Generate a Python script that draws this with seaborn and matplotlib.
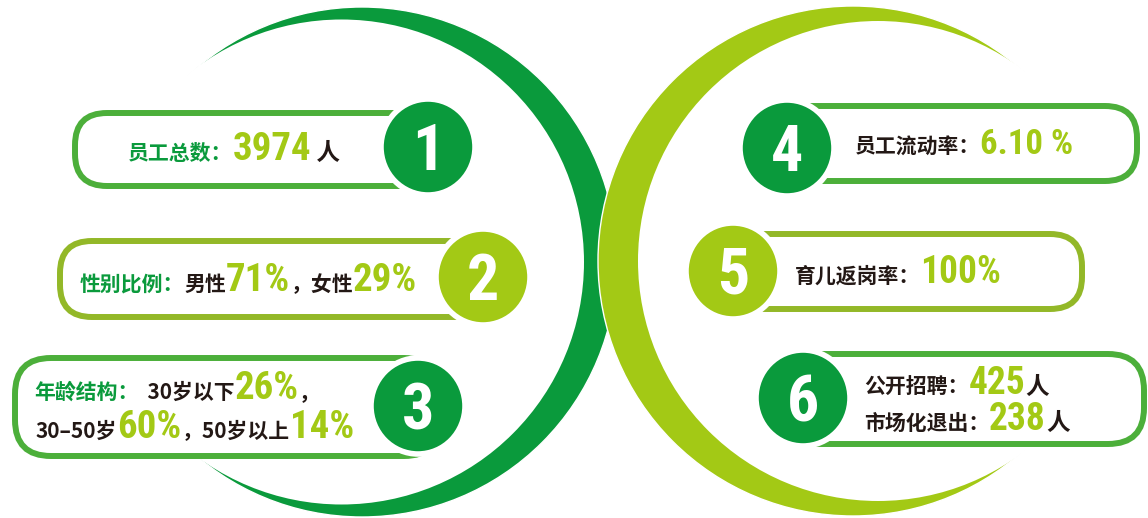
import matplotlib
matplotlib.use("Agg")
import matplotlib.pyplot as plt
import seaborn as sns
from matplotlib import font_manager
from matplotlib.patches import Circle, Ellipse, FancyBboxPatch

# --- DATA ---
badge_numbers = ["1", "2", "3", "4", "5", "6"]
staff_total = 3974
gender_labels = ["男性", "女性"]
gender_pct = [71, 29]
age_labels = ["30岁以下", "30–50岁", "50岁以上"]
age_pct = [26, 60, 14]
turnover_rate = 6.10
return_rate = 100
hire_labels = ["公开招聘：", "市场化退出："]
hire_counts = [425, 238]

# --- STYLE ---
sns.set_theme(style="white")
plt.rcParams["font.family"] = ["Noto Sans CJK SC", "DejaVu Sans"]

DARK = "#0a9a3c"
LIME = "#a3c915"
BORDER = "#4caf3a"
BORDER2 = "#93b828"
INK = "#231815"

# narrow font for the big numbers, whatever is around
installed = sorted({f.name for f in font_manager.fontManager.ttflist})
num_family = None
for name in ["Roboto Condensed", "Liberation Sans Narrow", "DejaVu Sans Condensed",
             "Open Sans Condensed", "Noto Sans Condensed"]:
    if name in installed:
        num_family = name
        break
if num_family is None:
    narrow = [n for n in installed if "Condensed" in n or "Narrow" in n]
    num_family = narrow[0] if narrow else "Roboto"
NUM = dict(family=num_family, weight="bold")
CJK = dict(family=["Noto Sans CJK SC", "DejaVu Sans"], weight="bold")
LBL = 15  # size of the chinese labels

fig = plt.figure(figsize=(11.48, 5.18), dpi=100)
ax = fig.add_axes([0, 0, 1, 1])
ax.set_xlim(0, 1148)
ax.set_ylim(518, 0)
ax.axis("off")
renderer = fig.canvas.get_renderer()


def crescent(cx, cy, r, dx, r_in, color, zo):
    ax.add_patch(Circle((cx, cy), r, fc=color, ec="white", lw=1, zorder=zo))
    ax.add_patch(Circle((cx + dx, cy), r_in, fc="white", ec="none", zorder=zo + 0.5))


def box(x0, y0, x1, y1, color, rs):
    ax.add_patch(FancyBboxPatch((x0, y0), x1 - x0, y1 - y0,
                                boxstyle=f"round,pad=0,rounding_size={rs}",
                                fc="white", ec=color, lw=4.3, zorder=5))


def badge(cx, cy, color, label):
    ax.add_patch(Ellipse((cx, cy), 94, 96, fc=color, ec="white", lw=4, zorder=6))
    ax.text(cx, cy + 23, label, color="white", fontsize=46, ha="center",
            va="baseline", zorder=7, **NUM)


def chain(x, y, parts):
    # place text pieces one after another on the same baseline
    for s, color, size, props in parts:
        t = ax.text(x, y, s, color=color, fontsize=size, ha="left",
                    va="baseline", zorder=7, **props)
        bb = t.get_window_extent(renderer)
        x = ax.transData.inverted().transform((bb.x1, bb.y0))[0]


# --- BACKGROUND CRESCENTS ---
crescent(362, 262, 255, -20.5, 242.5, DARK, 1)
crescent(853, 261, 255, 25, 240, LIME, 2)

# --- BOXES ---
box(75, 113, 445, 186, BORDER, 32)
box(60, 241, 505, 317, BORDER2, 32)
box(15, 358, 440, 456, BORDER, 36)
box(765, 106, 1137, 181, BORDER, 32)
box(715, 234, 1082, 309, BORDER2, 32)
box(785, 354, 1144, 444, BORDER, 36)

# --- BADGES ---
badge_pos = [(428, 147), (483, 277), (418, 406), (787, 148), (733, 271), (803, 398)]
badge_col = [DARK, LIME, DARK, DARK, LIME, DARK]
for (bx, by), bc, num in zip(badge_pos, badge_col, badge_numbers):
    badge(bx, by, bc, num)

# --- TEXT ---
chain(128, 160, [("员工总数：", DARK, LBL, CJK),
                 (f"{staff_total}", LIME, 28, NUM),
                 (" 人", INK, 17, CJK)])

chain(80, 291, [("性别比例：", DARK, LBL, CJK),
                (gender_labels[0], INK, LBL, CJK),
                (f"{gender_pct[0]}%", LIME, 28, NUM),
                ("，" + gender_labels[1], INK, LBL, CJK),
                (f"{gender_pct[1]}%", LIME, 28, NUM)])

chain(34, 399, [("年龄结构：", DARK, LBL, CJK),
                ("  " + age_labels[0], INK, LBL, CJK),
                (f"{age_pct[0]}%", LIME, 28, NUM),
                ("，", INK, LBL, CJK)])
chain(36, 438, [(age_labels[1], INK, LBL, CJK),
                (f"{age_pct[1]}%", LIME, 28, NUM),
                ("，" + age_labels[2], INK, LBL, CJK),
                (f"{age_pct[2]}%", LIME, 28, NUM)])

chain(855, 154, [("员工流动率：", INK, LBL, CJK),
                 (f"{turnover_rate:.2f} %", LIME, 25, NUM)])

chain(795, 283, [("育儿返岗率：", INK, LBL, CJK),
                 (f"{return_rate}%", LIME, 27, NUM)])

chain(864, 394, [(hire_labels[0], INK, LBL, CJK),
                 (f"{hire_counts[0]}", LIME, 27, NUM),
                 ("人", INK, 17, CJK)])
chain(864, 430, [(hire_labels[1], INK, LBL, CJK),
                 (f"{hire_counts[1]}", LIME, 27, NUM),
                 ("人", INK, 17, CJK)])

fig.savefig("out.png", dpi=100, facecolor="white")
